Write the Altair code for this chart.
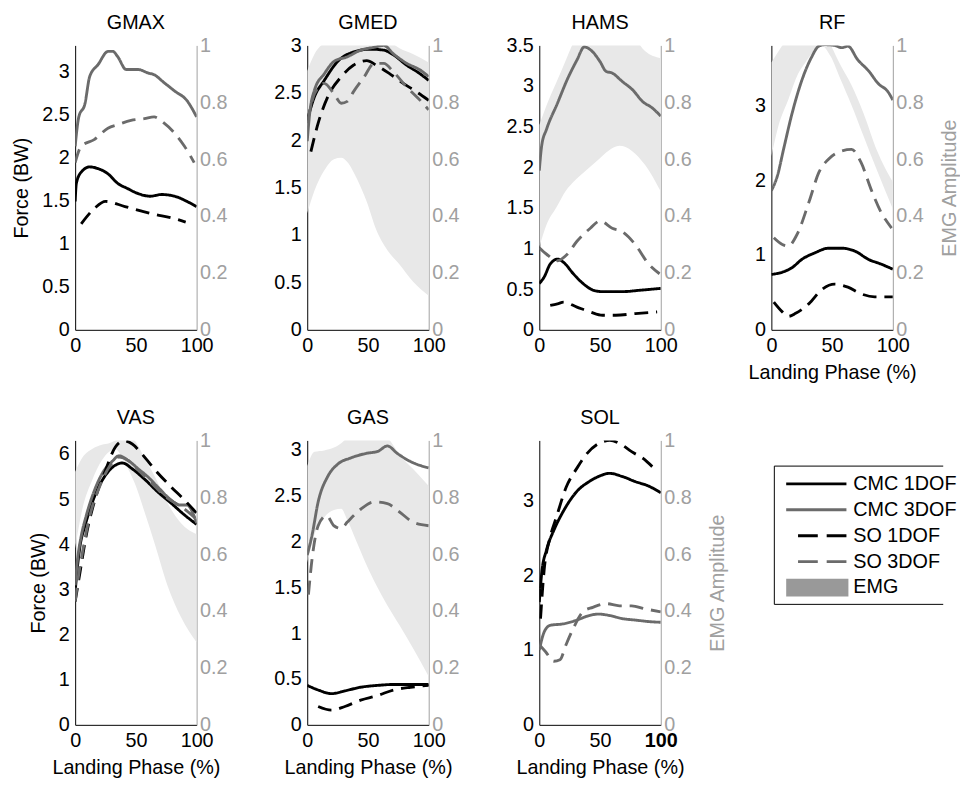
import altair as alt
import pandas as pd

MODELS = ["CMC 1DOF", "CMC 3DOF", "SO 1DOF", "SO 3DOF"]
LINE_COLORS = ["#000000", "#6b6b6b", "#000000", "#6b6b6b"]
LINE_DASHES = [[1, 0], [1, 0], [14, 8], [14, 8]]
LEGEND_LABELS = ["CMC 1DOF", "CMC 3DOF", "SO 1DOF", "SO 3DOF", "EMG"]
X_TICKS = [0, 50, 100]
EMG_TICKS = [0, 0.2, 0.4, 0.6, 0.8, 1]
BAND_X = [0, 6, 14, 22, 28, 33, 41, 49, 57, 66, 76, 87, 100]

# ---------------- GMAX ----------------
GMAX_CMC1_X = [0, 1, 5, 12, 19, 27, 35, 43, 52, 62, 71, 82, 92, 100]
GMAX_CMC1_Y = [1.49, 1.70, 1.83, 1.89, 1.87, 1.81, 1.70, 1.64, 1.58, 1.55, 1.57, 1.55, 1.49, 1.43]
GMAX_CMC3_X = [0, 3, 8, 12, 19, 27, 31, 35, 42, 52, 60, 65, 73, 82, 92, 100]
GMAX_CMC3_Y = [2.13, 2.47, 2.62, 2.94, 3.08, 3.23, 3.23, 3.17, 3.02, 3.02, 2.98, 2.96, 2.87, 2.77, 2.66, 2.47]
GMAX_SO1_X = [5, 16, 25, 41, 54, 65, 79, 91]
GMAX_SO1_Y = [1.23, 1.41, 1.49, 1.43, 1.38, 1.34, 1.30, 1.25]
GMAX_SO3_X = [0, 5, 16, 27, 35, 46, 57, 65, 73, 82, 90, 98]
GMAX_SO3_Y = [1.94, 2.13, 2.21, 2.34, 2.38, 2.43, 2.45, 2.47, 2.40, 2.28, 2.13, 1.94]

# ---------------- GMED ----------------
GMED_CMC1_X = [0, 6, 14, 25, 38, 52, 63, 71, 82, 93, 100]
GMED_CMC1_Y = [2.21, 2.46, 2.63, 2.83, 2.93, 2.96, 2.95, 2.90, 2.79, 2.70, 2.63]
GMED_CMC3_X = [0, 2, 6, 14, 22, 33, 44, 55, 63, 71, 82, 93, 100]
GMED_CMC3_Y = [1.99, 2.28, 2.53, 2.70, 2.83, 2.88, 2.95, 2.98, 3.00, 2.91, 2.81, 2.74, 2.67]
GMED_SO1_X = [3, 9, 17, 28, 38, 49, 57, 68, 79, 90, 100]
GMED_SO1_Y = [1.88, 2.18, 2.46, 2.67, 2.79, 2.84, 2.79, 2.70, 2.60, 2.51, 2.42]
GMED_SO3_X = [0, 6, 14, 22, 28, 33, 38, 47, 55, 63, 71, 82, 93, 100]
GMED_SO3_Y = [2.18, 2.49, 2.60, 2.49, 2.39, 2.41, 2.51, 2.67, 2.81, 2.81, 2.72, 2.56, 2.42, 2.32]
GMED_EMG_LO = [0.41, 0.49, 0.56, 0.60, 0.605, 0.59, 0.53, 0.45, 0.35, 0.28, 0.23, 0.17, 0.12]
GMED_EMG_HI = [0.91, 0.97, 1.01, 1.03, 1.04, 1.05, 1.05, 1.05, 1.04, 1.02, 0.99, 0.97, 0.94]

# ---------------- HAMS ----------------
HAMS_CMC1_X = [0, 4, 9, 15, 20, 28, 36, 44, 52, 68, 85, 100]
HAMS_CMC1_Y = [0.57, 0.65, 0.81, 0.87, 0.83, 0.69, 0.57, 0.49, 0.47, 0.47, 0.49, 0.51]
HAMS_CMC3_X = [0, 2, 6, 15, 23, 31, 37, 44, 50, 55, 60, 68, 77, 85, 93, 100]
HAMS_CMC3_Y = [1.96, 2.27, 2.47, 2.79, 3.08, 3.32, 3.48, 3.42, 3.30, 3.18, 3.16, 3.06, 2.95, 2.81, 2.73, 2.63]
HAMS_SO1_X = [9, 15, 20, 31, 42, 52, 63, 79, 97]
HAMS_SO1_Y = [0.30, 0.32, 0.34, 0.28, 0.22, 0.18, 0.18, 0.20, 0.22]
HAMS_SO3_X = [0, 6, 15, 23, 31, 42, 50, 60, 68, 79, 90, 99]
HAMS_SO3_Y = [1.01, 0.93, 0.85, 0.93, 1.09, 1.25, 1.34, 1.25, 1.21, 1.05, 0.81, 0.69]
HAMS_EMG_LO = [0.29, 0.37, 0.43, 0.49, 0.52, 0.54, 0.57, 0.60, 0.63, 0.647, 0.63, 0.58, 0.486]
HAMS_EMG_HI = [0.72, 0.79, 0.87, 0.95, 1.01, 1.05, 1.06, 1.06, 1.06, 1.06, 1.04, 0.98, 0.955]

# ---------------- RF ----------------
RF_CMC1_X = [0, 9, 17, 25, 36, 47, 58, 69, 80, 90, 100]
RF_CMC1_Y = [0.74, 0.77, 0.83, 0.94, 1.03, 1.09, 1.09, 1.05, 0.94, 0.88, 0.81]
RF_CMC3_X = [0, 5, 10, 17, 25, 33, 39, 44, 52, 58, 63, 71, 80, 88, 96, 100]
RF_CMC3_Y = [1.86, 2.06, 2.41, 2.89, 3.33, 3.64, 3.79, 3.81, 3.80, 3.77, 3.79, 3.61, 3.46, 3.29, 3.18, 3.07]
RF_SO1_X = [2, 9, 14, 20, 31, 41, 52, 63, 74, 85, 100]
RF_SO1_Y = [0.37, 0.24, 0.18, 0.22, 0.35, 0.53, 0.61, 0.57, 0.48, 0.44, 0.44]
RF_SO3_X = [2, 9, 14, 21, 31, 39, 47, 58, 66, 74, 82, 90, 99]
RF_SO3_Y = [1.23, 1.14, 1.12, 1.27, 1.71, 2.10, 2.28, 2.39, 2.41, 2.23, 1.88, 1.58, 1.36]
RF_EMG_LO = [0.61, 0.72, 0.81, 0.90, 0.94, 0.97, 1.00, 0.96, 0.88, 0.79, 0.68, 0.56, 0.425]
RF_EMG_HI = [0.94, 0.98, 1.03, 1.06, 1.08, 1.08, 1.06, 1.00, 0.93, 0.86, 0.76, 0.63, 0.52]

# ---------------- VAS ----------------
VAS_CMC1_X = [0, 2, 4, 8, 12, 17, 25, 33, 39, 47, 58, 68, 79, 90, 100]
VAS_CMC1_Y = [2.95, 3.53, 3.96, 4.40, 4.76, 5.13, 5.53, 5.75, 5.80, 5.67, 5.42, 5.16, 4.91, 4.65, 4.44]
VAS_CMC3_X = [0, 2, 5, 9, 15, 23, 31, 36, 44, 52, 60, 68, 79, 86, 92, 100]
VAS_CMC3_Y = [3.09, 3.67, 4.18, 4.62, 5.13, 5.60, 5.85, 5.96, 5.85, 5.67, 5.49, 5.27, 4.98, 4.87, 4.87, 4.47]
VAS_SO1_X = [0, 4, 9, 17, 25, 33, 40, 47, 55, 66, 79, 90, 100]
VAS_SO1_Y = [2.73, 3.38, 4.18, 5.05, 5.64, 6.15, 6.29, 6.22, 6.00, 5.64, 5.27, 4.98, 4.69]
VAS_SO3_X = [0, 2, 6, 12, 20, 28, 36, 44, 55, 66, 76, 87, 100]
VAS_SO3_Y = [2.73, 3.16, 3.82, 4.62, 5.27, 5.71, 5.93, 5.85, 5.56, 5.27, 5.02, 4.84, 4.55]
VAS_EMG_LO = [0.62, 0.76, 0.86, 0.93, 0.96, 0.97, 0.92, 0.85, 0.75, 0.63, 0.49, 0.38, 0.29]
VAS_EMG_HI = [0.89, 0.94, 0.97, 0.985, 0.99, 1.00, 1.02, 1.00, 0.94, 0.87, 0.78, 0.71, 0.67]

# ---------------- GAS ----------------
GAS_CMC1_X = [0, 9, 20, 31, 44, 58, 71, 85, 100]
GAS_CMC1_Y = [0.43, 0.38, 0.34, 0.37, 0.41, 0.43, 0.44, 0.44, 0.44]
GAS_CMC3_X = [0, 4, 9, 17, 25, 36, 49, 58, 66, 74, 85, 100]
GAS_CMC3_Y = [1.85, 2.07, 2.43, 2.71, 2.84, 2.91, 2.96, 2.98, 3.04, 2.96, 2.87, 2.80]
GAS_SO1_X = [9, 20, 31, 44, 58, 71, 85, 100]
GAS_SO1_Y = [0.20, 0.16, 0.20, 0.27, 0.32, 0.38, 0.41, 0.43]
GAS_SO3_X = [1, 4, 9, 16, 22, 28, 33, 44, 55, 66, 76, 87, 100]
GAS_SO3_Y = [1.42, 1.81, 2.17, 2.28, 2.17, 2.14, 2.21, 2.35, 2.43, 2.41, 2.32, 2.21, 2.17]
GAS_EMG_LO = [0.57, 0.67, 0.73, 0.755, 0.76, 0.72, 0.64, 0.56, 0.49, 0.42, 0.35, 0.27, 0.17]
GAS_EMG_HI = [0.91, 0.96, 0.965, 0.975, 0.99, 1.01, 1.03, 1.03, 1.03, 1.01, 0.95, 0.90, 0.84]

# ---------------- SOL ----------------
SOL_CMC1_X = [0, 2, 6, 12, 20, 31, 41, 49, 58, 68, 79, 90, 100]
SOL_CMC1_Y = [1.64, 2.03, 2.34, 2.60, 2.86, 3.12, 3.25, 3.32, 3.36, 3.32, 3.25, 3.19, 3.10]
SOL_CMC3_X = [0, 4, 9, 20, 31, 41, 49, 58, 68, 79, 90, 100]
SOL_CMC3_Y = [1.00, 1.24, 1.33, 1.35, 1.40, 1.46, 1.48, 1.46, 1.42, 1.40, 1.38, 1.37]
SOL_SO1_X = [1, 4, 9, 14, 22, 31, 39, 49, 58, 66, 76, 87, 93]
SOL_SO1_Y = [1.42, 2.07, 2.51, 2.77, 3.17, 3.43, 3.62, 3.76, 3.80, 3.76, 3.65, 3.54, 3.45]
SOL_SO3_X = [0, 5, 12, 17, 22, 28, 36, 44, 55, 66, 76, 87, 100]
SOL_SO3_Y = [1.07, 0.98, 0.85, 0.87, 1.07, 1.29, 1.51, 1.57, 1.62, 1.59, 1.59, 1.55, 1.51]

NO_EMG = [0] * len(BAND_X)

PANELS = [
    ("GMAX", [(GMAX_CMC1_X, GMAX_CMC1_Y), (GMAX_CMC3_X, GMAX_CMC3_Y), (GMAX_SO1_X, GMAX_SO1_Y), (GMAX_SO3_X, GMAX_SO3_Y)],
     NO_EMG, NO_EMG, False, 3.3, [0, 0.5, 1, 1.5, 2, 2.5, 3]),
    ("GMED", [(GMED_CMC1_X, GMED_CMC1_Y), (GMED_CMC3_X, GMED_CMC3_Y), (GMED_SO1_X, GMED_SO1_Y), (GMED_SO3_X, GMED_SO3_Y)],
     GMED_EMG_LO, GMED_EMG_HI, True, 3.0, [0, 0.5, 1, 1.5, 2, 2.5, 3]),
    ("HAMS", [(HAMS_CMC1_X, HAMS_CMC1_Y), (HAMS_CMC3_X, HAMS_CMC3_Y), (HAMS_SO1_X, HAMS_SO1_Y), (HAMS_SO3_X, HAMS_SO3_Y)],
     HAMS_EMG_LO, HAMS_EMG_HI, True, 3.5, [0, 0.5, 1, 1.5, 2, 2.5, 3, 3.5]),
    ("RF", [(RF_CMC1_X, RF_CMC1_Y), (RF_CMC3_X, RF_CMC3_Y), (RF_SO1_X, RF_SO1_Y), (RF_SO3_X, RF_SO3_Y)],
     RF_EMG_LO, RF_EMG_HI, True, 3.8, [0, 1, 2, 3]),
    ("VAS", [(VAS_CMC1_X, VAS_CMC1_Y), (VAS_CMC3_X, VAS_CMC3_Y), (VAS_SO1_X, VAS_SO1_Y), (VAS_SO3_X, VAS_SO3_Y)],
     VAS_EMG_LO, VAS_EMG_HI, True, 6.3, [0, 1, 2, 3, 4, 5, 6]),
    ("GAS", [(GAS_CMC1_X, GAS_CMC1_Y), (GAS_CMC3_X, GAS_CMC3_Y), (GAS_SO1_X, GAS_SO1_Y), (GAS_SO3_X, GAS_SO3_Y)],
     GAS_EMG_LO, GAS_EMG_HI, True, 3.1, [0, 0.5, 1, 1.5, 2, 2.5, 3]),
    ("SOL", [(SOL_CMC1_X, SOL_CMC1_Y), (SOL_CMC3_X, SOL_CMC3_Y), (SOL_SO1_X, SOL_SO1_Y), (SOL_SO3_X, SOL_SO3_Y)],
     NO_EMG, NO_EMG, False, 3.8, [0, 1, 2, 3]),
]

FONT = "Liberation Sans"
FS = 20
EMG_GRAY = "#a0a0a0"
BAND_FILL = "#e8e8e8"
PW, PH = 123, 288


def color_scale():
    return alt.Scale(domain=MODELS, range=LINE_COLORS)


def dash_scale():
    return alt.Scale(domain=MODELS, range=LINE_DASHES)


def panel(name, curves, lo, hi, has_emg, ymax, yticks, left_title, right_title, x_title):
    rows = []
    for model, (xs, ys) in zip(MODELS, curves):
        for xv, yv in zip(xs, ys):
            rows.append({"x": xv, "force": yv, "model": model})
    ldf = pd.DataFrame(rows)
    bdf = pd.DataFrame({"x": BAND_X, "lo": lo, "hi": hi})

    x_axis_kw = dict(values=X_TICKS, title="Landing Phase (%)" if x_title else None,
                     labelFlush=False, titlePadding=7)
    if name == "SOL":
        x_axis_kw["labelFontWeight"] = {"condition": {"test": "datum.value == 100", "value": "bold"},
                                        "value": "normal"}
    xenc = alt.X("x:Q", scale=alt.Scale(domain=[0, 100], nice=False, zero=False),
                 axis=alt.Axis(**x_axis_kw))

    band = alt.Chart(bdf).mark_area(
        color=BAND_FILL, clip=True, interpolate="monotone", opacity=1 if has_emg else 0
    ).encode(
        x=xenc,
        y=alt.Y("lo:Q", scale=alt.Scale(domain=[0, 1], nice=False),
                axis=alt.Axis(orient="right", values=EMG_TICKS, format="~g",
                              title="EMG Amplitude" if right_title else None,
                              labelColor=EMG_GRAY, domainColor=EMG_GRAY, titleColor=EMG_GRAY,
                              titleAngle=270, titleBaseline="top", labelPadding=3,
                              titlePadding=17)),
        y2="hi:Q",
    )
    lines = alt.Chart(ldf).mark_line(strokeWidth=2.9, interpolate="monotone", clip=True).encode(
        x=xenc,
        y=alt.Y("force:Q", scale=alt.Scale(domain=[0, ymax], nice=False),
                axis=alt.Axis(orient="left", values=yticks, format="~g",
                              title="Force (BW)" if left_title else None, titlePadding=10)),
        color=alt.Color("model:N", scale=color_scale(), legend=None),
        strokeDash=alt.StrokeDash("model:N", scale=dash_scale(), legend=None),
    )
    return alt.layer(band, lines).resolve_scale(y="independent").properties(
        width=PW, height=PH,
        title=alt.TitleParams(name, frame="group", anchor="middle", fontSize=FS,
                              fontWeight="normal", offset=3, color="black"),
    )


def legend_panel():
    ldf = pd.DataFrame({"label": LEGEND_LABELS,
                        "kind": ["solid", "solid", "dash", "dash", "patch"]})
    yenc = alt.Y("label:N", sort=LEGEND_LABELS, axis=None,
                 scale=alt.Scale(type="point", domain=LEGEND_LABELS, range=[44, 149], padding=0))
    base = alt.Chart(ldf)
    box = alt.Chart(pd.DataFrame({"k": [0]})).mark_rect(
        fill="white", stroke="black", strokeWidth=1, clip=True
    ).encode(x=alt.value(3), x2=alt.value(400), y=alt.value(26), y2=alt.value(166))
    solid = base.transform_filter(alt.datum.kind == "solid").mark_rule(strokeWidth=2.9).encode(
        x=alt.value(15), x2=alt.value(76), y=yenc,
        color=alt.Color("label:N", scale=color_scale(), legend=None))
    dashed = base.transform_filter(alt.datum.kind == "dash").mark_rule(
        strokeWidth=2.9, strokeDash=[20, 9]).encode(
        x=alt.value(27), x2=alt.value(76), y=yenc,
        color=alt.Color("label:N", scale=color_scale(), legend=None))
    patch = base.transform_filter(alt.datum.kind == "patch").mark_rule(
        strokeWidth=18, color="#999999", strokeCap="butt").encode(
        x=alt.value(15), x2=alt.value(78), y=yenc)
    text = base.mark_text(align="left", baseline="middle", fontSize=FS, font=FONT, color="black").encode(
        x=alt.value(83), y=yenc, text="label:N")
    return alt.layer(box, solid, dashed, patch, text).properties(width=174, height=170)


p = []
for name, curves, lo, hi, has_emg, ymax, yticks in PANELS:
    left_title = name in ("GMAX", "VAS")
    right_title = name in ("RF", "SOL")
    x_title = name in ("RF", "VAS", "GAS", "SOL")
    p.append(panel(name, curves, lo, hi, has_emg, ymax, yticks, left_title, right_title, x_title))

chart = alt.concat(
    p[0], p[1], p[2], p[3], p[4], p[5], p[6], legend_panel(),
    columns=4, spacing={"row": 112, "column": 112}, bounds="flush",
).properties(
    padding={"left": 4, "top": 0, "right": 0, "bottom": 0}
).configure(font=FONT).configure_view(stroke=None).configure_axis(
    labelFontSize=FS, titleFontSize=FS, titleFontWeight="normal", ticks=False, grid=False,
    labelPadding=6, labelColor="black", domainColor="black", titleColor="black",
    labelFlush=False, domainWidth=1,
)

chart.save("out.html", embed_options={"renderer": "svg", "actions": False})
